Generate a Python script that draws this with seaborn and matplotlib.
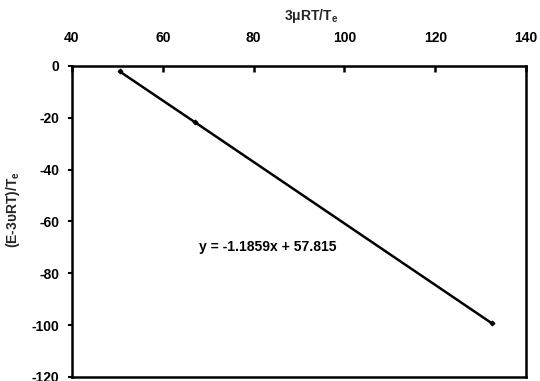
import matplotlib
matplotlib.use("Agg")
import matplotlib.pyplot as plt
import seaborn as sns
import numpy as np
import pandas as pd

# data
x_vals = [50.5, 67.0, 132.5]
y_vals = [-2.1, -21.6, -99.3]
x_ticks = [40, 60, 80, 100, 120, 140]
y_ticks = [0, -20, -40, -60, -80, -100, -120]
equation = "y = -1.1859x + 57.815"

sns.set_theme(style="white")
plt.rcParams['font.family'] = ['Liberation Sans', 'DejaVu Sans']
plt.rcParams['font.weight'] = 'bold'
plt.rcParams['axes.unicode_minus'] = False
plt.rcParams['mathtext.fontset'] = 'custom'
plt.rcParams['mathtext.rm'] = 'Liberation Sans:bold'
plt.rcParams['mathtext.it'] = 'Liberation Sans:bold'
plt.rcParams['mathtext.default'] = 'rm'

df = pd.DataFrame({"x": x_vals, "y": y_vals})

fig = plt.figure(figsize=(5.4, 3.81), dpi=100)
ax = fig.add_axes([72/540, 1-377/381, (526-72)/540, (377-66)/381])

sns.lineplot(data=df, x="x", y="y", ax=ax, color="black", linewidth=1.8,
             marker="D", markersize=2.5, markeredgecolor="black")

ax.set_xlim(40, 140)
ax.set_ylim(-120, 0)
ax.xaxis.set_ticks_position('top')
ax.xaxis.set_label_position('top')
ax.set_xticks(x_ticks)
ax.set_yticks(y_ticks)
ax.tick_params(axis='x', direction='in', length=4, width=1.8, pad=15,
               labelsize=10, colors='black', top=True, bottom=False)
ax.tick_params(axis='y', direction='out', length=3, width=1.5, pad=6,
               labelsize=10, colors='black', left=True)
for lbl in ax.get_xticklabels() + ax.get_yticklabels():
    lbl.set_fontweight('bold')

for s in ax.spines.values():
    s.set_visible(True)
    s.set_color('black')
    s.set_linewidth(1.8)

ax.set_xlabel(r"3μRT/T$_\mathrm{e}$", fontsize=10, fontweight='bold')
ax.set_ylabel(r"(E-3υRT)/T$_\mathrm{e}$", fontsize=10, fontweight='bold')
ax.xaxis.set_label_coords((311-72)/454, (377-20)/311)
ax.yaxis.set_label_coords((22-72)/454, (377-210)/311)

ax.text(83.2, -69.9, equation, fontsize=10, fontweight='bold',
        ha='center', va='center', color='black')

fig.savefig("out.png", dpi=100)
